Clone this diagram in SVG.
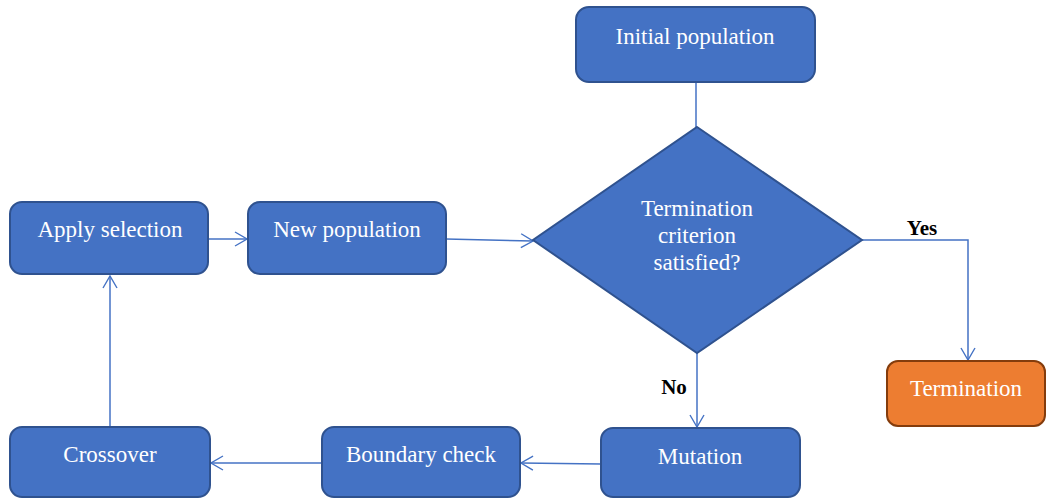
<svg xmlns="http://www.w3.org/2000/svg" width="1048" height="501" viewBox="0 0 1048 501">
<defs>
<marker id="arr" viewBox="0 0 14 16" refX="13" refY="8" markerWidth="14" markerHeight="16" markerUnits="userSpaceOnUse" orient="auto">
<path d="M1,1 L13,8 L1,15" fill="none" stroke="#4472C4" stroke-width="1.4"/>
</marker>
<style>
.box{fill:#4472C4;stroke:#2F528F;stroke-width:2}
.term{fill:#ED7D31;stroke:#843C0C;stroke-width:2}
.t{font-family:"Liberation Serif","Times New Roman",serif;font-size:23px;fill:#ffffff;text-anchor:middle}
.lbl{font-family:"Liberation Serif","Times New Roman",serif;font-size:21px;font-weight:bold;fill:#000000;text-anchor:middle}
.c{fill:none;stroke:#4472C4;stroke-width:1.5}
</style>
</defs>
<rect width="1048" height="501" fill="#ffffff"/>
<g id="connectors">
<path class="c" d="M696,82 L696,127"/>
<path class="c" d="M208,239 L247,239" marker-end="url(#arr)"/>
<path class="c" d="M446,239 L533,241" marker-end="url(#arr)"/>
<path class="c" d="M862,240 L968,240 L968,360" marker-end="url(#arr)"/>
<path class="c" d="M697,353 L697,427" marker-end="url(#arr)"/>
<path class="c" d="M601,464 L521,463" marker-end="url(#arr)"/>
<path class="c" d="M322,463 L211,463" marker-end="url(#arr)"/>
<path class="c" d="M110,427 L110,276" marker-end="url(#arr)"/>
<text class="lbl" x="922" y="235">Yes</text>
<text class="lbl" x="674" y="394">No</text>
</g>
<g id="initial">
<rect class="box" x="576" y="7" width="239" height="75" rx="13"/>
<text class="t" x="695" y="44">Initial population</text>
</g>
<g id="decision">
<polygon class="box" points="697,127 862,240 697,353 533,240"/>
<text class="t" x="697" y="216">Termination</text>
<text class="t" x="697" y="243">criterion</text>
<text class="t" x="697" y="270">satisfied?</text>
</g>
<g id="apply">
<rect class="box" x="10" y="202" width="198" height="72" rx="12"/>
<text class="t" x="110" y="237">Apply selection</text>
</g>
<g id="newpop">
<rect class="box" x="248" y="202" width="198" height="72" rx="12"/>
<text class="t" x="347" y="237">New population</text>
</g>
<g id="termination">
<rect class="term" x="887" y="361" width="158" height="65" rx="11"/>
<text class="t" x="966" y="396">Termination</text>
</g>
<g id="mutation">
<rect class="box" x="601" y="428" width="199" height="69" rx="12"/>
<text class="t" x="700" y="464">Mutation</text>
</g>
<g id="boundary">
<rect class="box" x="322" y="427" width="198" height="70" rx="12"/>
<text class="t" x="421" y="462">Boundary check</text>
</g>
<g id="crossover">
<rect class="box" x="10" y="427" width="200" height="70" rx="12"/>
<text class="t" x="110" y="462">Crossover</text>
</g>
</svg>
